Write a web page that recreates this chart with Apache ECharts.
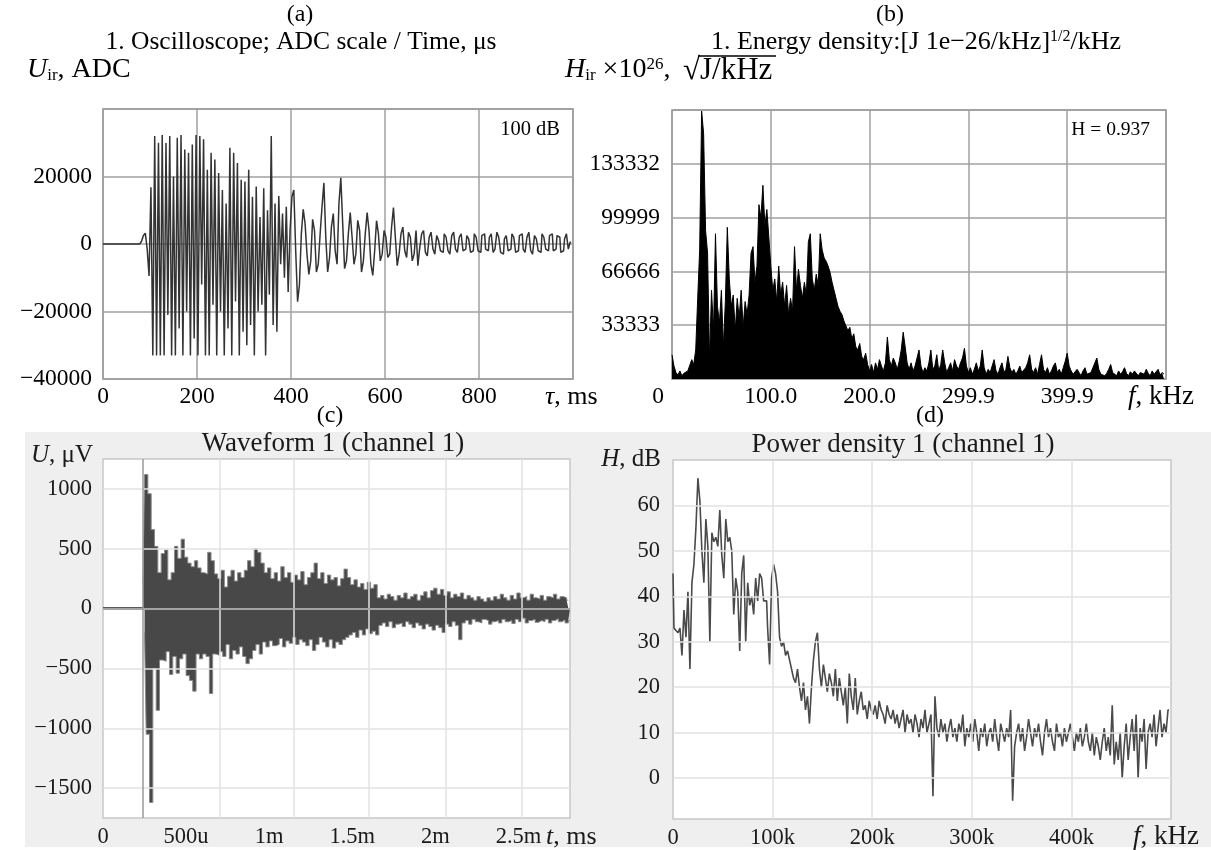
<!DOCTYPE html>
<html>
<head>
<meta charset="utf-8">
<script src="https://cdn.jsdelivr.net/npm/echarts@6/dist/echarts.min.js"></script>
<style>
html, body { margin: 0; padding: 0; background: #fff; }
#main { width: 1211px; height: 850px; }
</style>
</head>
<body>
<div id="main"></div>
<script>
var FONT = 'Liberation Serif';

// (a) oscilloscope trace, ADC counts, one sample every 4 us
var aStep = 4;
var aValues = [
  0, 0, 0, 0, 0, 0, 0, 0, 0, 0,
  0, 0, 0, 0, 0, 0, 0, 0, 0, 0,
  0, 800, 2500, 3200, -1500, -9500, 16800, -33000, 32000, -33000,
  30000, -33000, 32300, -33000, 29900, -21000, 32000, -33000, 20000, -33000,
  31500, -25000, 32300, -33000, 28000, -20000, 27000, -33000, 29500, -28000,
  32300, -33000, 32000, -12000, 31000, -33000, 22000, -33000, 27000, -18000,
  25000, -33000, 21000, -20000, 16000, -33000, 12000, -25000, 28500, -33000,
  27000, -17000, 24000, -33000, 19000, -26000, 18500, -30000, 22000, -24000,
  14000, -33000, 17000, -20000, 8000, -18000, 16500, -33000, 10000, -15000,
  32000, -24000, 12000, -26000, 14200, -6000, 9000, -10000, 11000, -14200,
  4000, 14000, 16000, -2000, -17100, -12000, 3000, 10300, 6000, -3000,
  -9000, -5000, 7300, 4000, -8300, -6000, 3000, 11000, 18100, 2000,
  -8300, -4000, 5000, 9000, -2000, -6000, 12000, 19600, 6000, -7300,
  -5000, 3000, 9300, 2000, -6000, -3000, 7000, 4000, -8300, -5000,
  3000, 9300, 4000, -6000, -9300, -2000, 6900, 3000, -5000, -3000,
  4000, 2000, -4000, -3000, 5000, 10800, 2000, -6400, -3000, 3000,
  5000, -2000, -4000, 3500, 2000, -5000, -3000, 4000, -6400, -1000,
  3000, 4000, -2500, -3500, 2000, 3500, -1500, -3000, 2500, 1000,
  -2000, -2500, 3000, 2000, -2000, -3000, 2500, 3500, -1500, -2500,
  2000, 3000, -2000, -1500, 2500, 1500, -2500, -2000, 3000, 2000,
  -2000, -2500, 2500, 3000, -1500, -2000, 2000, 3000, -2500, -1500,
  3500, 2000, -2500, -3000, 1500, 2500, -2000, -1500, 3000, 2000,
  -2500, -2000, 2500, 3000, -1500, -2500, 2000, 3500, -2000, -3000,
  2500, 1500, -2000, -2500, 3000, 2000, -1500, -2000, 2500, 3000,
  -2000, -1500, 2500, 2000, -2500, -2000, 1500, 3000, -1500, 500
];

// (b) energy density spectrum, one bin every 2 kHz
var bStep = 2;
var bValues = [
  15000, 8000, 4000, 2500, 5000, 2000, 3500, 2500, 5000, 4000,
  12000, 9000, 18000, 50000, 80000, 166000, 152000, 92000, 78000, 12000,
  55000, 30000, 90000, 45000, 35000, 55000, 20000, 48000, 94000, 62000,
  45000, 52000, 30000, 50000, 38000, 55000, 32000, 48000, 40000, 52000,
  78000, 82000, 60000, 70000, 108000, 100000, 120000, 95000, 105000, 88000,
  70000, 55000, 62000, 48000, 70000, 52000, 60000, 45000, 58000, 40000,
  50000, 42000, 82000, 55000, 68000, 58000, 50000, 60000, 52000, 85000,
  90000, 62000, 55000, 65000, 58000, 90000, 80000, 75000, 73000, 70000,
  66000, 60000, 55000, 50000, 45000, 42000, 40000, 36000, 33000, 30000,
  32000, 25000, 28000, 20000, 18000, 22000, 14000, 12000, 16000, 9000,
  5000, 9000, 4000, 10000, 6000, 12000, 8000, 5000, 10000, 26000,
  12000, 8000, 13000, 10000, 6000, 11000, 18000, 29000, 20000, 10000,
  6000, 10000, 5000, 8000, 13000, 18000, 8000, 4000, 7000, 5000,
  10000, 18000, 6000, 8000, 15000, 5000, 9000, 18000, 10000, 4000,
  7000, 10000, 5000, 12000, 8000, 6000, 10000, 13000, 19000, 8000,
  4000, 7000, 3000, 6000, 10000, 5000, 8000, 18000, 7000, 3000,
  6000, 4000, 8000, 12000, 5000, 3000, 7000, 10000, 4000, 6000,
  14000, 7000, 4000, 6000, 3000, 5000, 8000, 4000, 3000, 7000,
  10000, 15000, 6000, 4000, 7000, 3000, 9000, 15000, 6000, 4000,
  7000, 3000, 5000, 8000, 10000, 4000, 6000, 3000, 7000, 11000,
  16000, 8000, 5000, 3000, 2500, 6000, 4000, 2000, 5000, 7000,
  3000, 2000, 4000, 7000, 10000, 13000, 6000, 3000, 4000, 2000,
  3500, 6000, 9000, 4000, 3000, 2000, 5000, 3000, 4500, 7000,
  3500, 2000, 4500, 3000, 5000, 3500, 2000, 4000, 5000, 3000,
  6000, 3500, 2000, 5000, 3000, 4000, 6000, 2500, 4000, 3000
];
var bTickLabels = ['0', '100.0', '200.0', '299.9', '399.9'];

// (c) waveform envelope, uV, every 0.02 ms from the trigger
var cStart = 0.24;
var cStep = 0.02;
var cUpper = [
  200, 1120, 960, 660, 520, 300, 460, 490, 240, 300,
  520, 420, 580, 430, 380, 350, 400, 340, 300, 290,
  470, 400, 290, 250, 320, 180, 270, 320, 230, 300,
  260, 320, 400, 350, 500, 470, 380, 300, 340, 250,
  300, 230, 350, 260, 300, 220, 280, 240, 310, 200,
  260, 300, 380, 250, 300, 210, 280, 240, 260, 190,
  250, 330, 260, 200, 240, 180, 210, 160, 220, 170,
  200, 90, 110, 80, 120, 100, 70, 110, 90, 130,
  80, 100, 120, 70, 110, 140, 90, 150, 170, 120,
  160, 110, 140, 90, 120, 100, 130, 80, 110, 90,
  70, 100, 80, 60, 90, 70, 100, 80, 120, 90,
  70, 110, 80, 130, 90, 100, 70, 120, 90, 80,
  110, 70, 100, 90, 120, 80, 100, 90, 70
];
var cLower = [
  -200, -1050, -1620, -500, -850, -430, -440, -360, -550, -400,
  -540, -420, -380, -560, -600, -690, -380, -420, -380, -400,
  -710, -380, -390, -360, -400, -300, -420, -350, -380, -320,
  -400, -460, -420, -350, -300, -380, -280, -320, -270, -310,
  -300, -250, -320, -270, -290, -240, -300, -260, -280, -310,
  -260, -350, -300, -240, -280, -320, -260, -330, -280, -300,
  -260, -240, -220, -200, -240, -180, -220, -170, -210, -190,
  -220, -140, -120, -150, -110, -160, -130, -120, -150, -110,
  -130, -160, -120, -140, -170, -130, -150, -180, -140, -160,
  -200, -130, -150, -110, -140, -260, -120, -100, -130, -90,
  -110, -120, -90, -100, -130, -110, -100, -120, -90, -110,
  -100, -125, -90, -110, -80, -120, -100, -90, -115, -100,
  -110, -90, -120, -100, -85, -110, -95, -120, -100
];
var cTickT = [0, 0.5, 1, 1.5, 2, 2.5];
var cTickLabels = ['0', '500u', '1m', '1.5m', '2m', '2.5m'];
var cGridT = [0.696, 1.152, 1.605, 2.062, 2.519];
var cTickU = [-1500, -1000, -500, 0, 500, 1000];
var cTrigger = 0.241;

// (d) power density, dB, one bin every 2 kHz
var dStep = 2;
var dValues = [
  45, 33, 32.5, 32, 33, 27, 37, 31, 41, 24,
  43, 47, 55, 66, 61, 50, 43, 57, 51, 30,
  54, 52, 53, 51, 59, 49, 44, 57, 52, 53,
  50, 36, 44, 41, 28, 45, 49, 30, 43, 38,
  40, 36, 44, 39, 45, 44, 39, 39, 33, 25,
  44, 47, 45, 41, 31, 29, 30, 27, 28, 26,
  24, 22, 21, 24, 20, 17, 21, 15, 18, 12,
  20, 26, 30, 32, 24, 20, 25, 22, 19, 23,
  21, 18, 24, 17, 22, 19, 16, 20, 12, 23,
  18, 15, 22, 14, 17, 19, 15, 16, 13, 17,
  15, 14, 16, 13, 17, 15, 14, 12, 16, 14,
  13, 15, 12, 14, 11, 13, 15, 10, 14, 12,
  13, 10, 14, 12, 9, 13, 11, 15, 10, 12,
  14, -4, 18, 11, 9, 13, 10, 12, 8, 11,
  13, 9, 11, 8, 12, 10, 14, 7, 11, 9,
  12, 8, 13, 10, 6, 11, 9, 12, 7, 10,
  11, 8, 13, 9, 6, 12, 10, 8, 11, 9,
  15, -5, 7, 10, 12, 8, 11, 6, 9, 13,
  10, 7, 11, 9, 12, 8, 5, 10, 13, 9,
  11, 8, 6, 12, 9, 10, 7, 11, 8, 10,
  12, 9, 6, 10, 8, 11, 7, 9, 12, 8,
  6, 10, 5, 9, 7, 4, 8, 11, 6, 9,
  5, 16, 3, 8, 4, 10, 0, 7, 12, 4,
  9, 13, 6, 14, 0, 11, 8, 13, 2, 10,
  12, 9, 14, 7, 11, 15, 9, 12, 10, 15
];
var dTickF = [0, 100, 200, 300, 400];
var dTickH = [0, 10, 20, 30, 40, 50, 60];

var chart = echarts.init(document.getElementById('main'));

function minus(v) {
    return String(v).replace('-', '\u2212');
}

var aData = aValues.map(function (v, i) { return [i * aStep, v]; });
var bData = bValues.map(function (v, i) { return [i * bStep, v]; });
var dData = dValues.map(function (v, i) { return [i * dStep, v]; });
var cUpData = cUpper.map(function (v, i) { return [cStart + i * cStep, v]; });
var cLowData = cLower.map(function (v, i) { return [cStart + i * cStep + cStep / 2, v]; });

var topLabel = { fontFamily: FONT, fontSize: 23.5, color: '#000' };
var botLabel = { fontFamily: FONT, fontSize: 22.5, color: '#1a1a1a' };

function gridLines(xi, xs, ys) {
    var data = xs.map(function (x) { return { xAxis: x }; })
        .concat(ys.map(function (y) { return { yAxis: y }; }));
    return {
        type: 'line', xAxisIndex: xi, yAxisIndex: xi, data: [], z: 1,
        markLine: {
            silent: true, symbol: ['none', 'none'], label: { show: false },
            lineStyle: { type: 'solid', color: '#e2e2e2', width: 1.5 },
            data: data
        }
    };
}

// rich text styles: n normal, i italic, b subscript, t superscript
function richSet(size, color) {
    return {
        n: { fontFamily: FONT, fontSize: size, fill: color },
        i: { fontFamily: FONT, fontSize: size, fontStyle: 'italic', fill: color },
        b: { fontFamily: FONT, fontSize: Math.round(size * 0.62), fill: color, verticalAlign: 'bottom', lineHeight: 10 },
        t: { fontFamily: FONT, fontSize: Math.round(size * 0.62), fill: color, verticalAlign: 'top', lineHeight: 14 }
    };
}

function rtxt(x, y, text, size, align, color) {
    color = color || '#000';
    return {
        type: 'text', x: x, y: y, z: 100,
        style: {
            text: text, align: align || 'left', verticalAlign: 'middle',
            rich: richSet(size, color)
        }
    };
}

chart.setOption({
    animation: false,
    grid: [
        { left: 103, top: 109, width: 470, height: 270, show: true, borderColor: '#8c8c8c', borderWidth: 1.5 },
        { left: 672, top: 110, width: 494, height: 269, show: true, borderColor: '#8c8c8c', borderWidth: 1.5 },
        { left: 103, top: 459, width: 467, height: 359, show: true, backgroundColor: '#fff', borderColor: '#c8c8c8', borderWidth: 1.5 },
        { left: 673, top: 460, width: 498, height: 359, show: true, backgroundColor: '#fff', borderColor: '#c8c8c8', borderWidth: 1.5 }
    ],
    xAxis: [
        {
            gridIndex: 0, type: 'value', min: 0, max: 1000, interval: 200,
            axisLine: { show: false }, axisTick: { show: false },
            splitLine: { lineStyle: { color: '#a0a0a0', width: 1.5 } },
            axisLabel: Object.assign({ margin: 6, formatter: function (v) { return v === 1000 ? '' : v; } }, topLabel)
        },
        {
            gridIndex: 1, type: 'value', min: 0, max: 500, interval: 100,
            axisLine: { show: false }, axisTick: { show: false },
            splitLine: { lineStyle: { color: '#a0a0a0', width: 1.5 } },
            axisLabel: Object.assign({
                margin: 6,
                formatter: function (v) {
                    var s = bTickLabels[v / 100] || '';
                    return v === 0 ? '{z|' + s + '}' : s;
                },
                rich: { z: { fontFamily: FONT, fontSize: 23.5, color: '#000', padding: [0, 28, 0, 0] } }
            }, topLabel)
        },
        {
            gridIndex: 2, type: 'value', min: 0, max: 2.81,
            axisLine: { show: false }, axisTick: { show: false }, splitLine: { show: false },
            axisLabel: Object.assign({ margin: 8, customValues: cTickT, formatter: function (v) {
                var k = cTickT.indexOf(v);
                return k < 0 ? '' : cTickLabels[k];
            } }, botLabel)
        },
        {
            gridIndex: 3, type: 'value', min: 0, max: 500,
            axisLine: { show: false }, axisTick: { show: false }, splitLine: { show: false },
            axisLabel: Object.assign({ margin: 8, customValues: dTickF, formatter: function (v) {
                return v === 0 ? '0' : v + 'k';
            } }, botLabel)
        }
    ],
    yAxis: [
        {
            gridIndex: 0, type: 'value', min: -40000, max: 40000, interval: 20000,
            axisLine: { show: false }, axisTick: { show: false },
            splitLine: { lineStyle: { color: '#a0a0a0', width: 1.5 } },
            axisLabel: Object.assign({ margin: 11, formatter: function (v) { return v === 40000 ? '' : minus(v); } }, topLabel)
        },
        {
            gridIndex: 1, type: 'value', min: 0, max: 166665, interval: 33333,
            axisLine: { show: false }, axisTick: { show: false },
            splitLine: { lineStyle: { color: '#a0a0a0', width: 1.5 } },
            axisLabel: Object.assign({ margin: 12, formatter: function (v) { return (v === 0 || v === 166665) ? '' : v; } }, topLabel)
        },
        {
            gridIndex: 2, type: 'value', min: -1750, max: 1250,
            axisLine: { show: false }, axisTick: { show: false }, splitLine: { show: false },
            axisLabel: Object.assign({ margin: 11, customValues: cTickU, formatter: minus }, botLabel)
        },
        {
            gridIndex: 3, type: 'value', min: -9, max: 70,
            axisLine: { show: false }, axisTick: { show: false }, splitLine: { show: false },
            axisLabel: Object.assign({ margin: 13, customValues: dTickH }, botLabel)
        }
    ],
    series: [
        {
            type: 'line', xAxisIndex: 0, yAxisIndex: 0, data: aData, step: 'middle',
            symbol: 'none', z: 3, lineStyle: { color: '#333', width: 1.5 }
        },
        {
            type: 'line', xAxisIndex: 1, yAxisIndex: 1, data: bData,
            symbol: 'none', z: 3, lineStyle: { color: '#000', width: 1 },
            areaStyle: { color: '#000', opacity: 1 }
        },
        gridLines(2, cGridT, cTickU),
        {
            type: 'line', xAxisIndex: 2, yAxisIndex: 2, data: [[0, 0], [cStart, 0]],
            symbol: 'none', z: 3, lineStyle: { color: '#5a5a5a', width: 3 }
        },
        {
            type: 'line', xAxisIndex: 2, yAxisIndex: 2, data: cUpData, step: 'middle',
            symbol: 'none', z: 3, lineStyle: { color: '#8a8a8a', width: 1 },
            areaStyle: { color: '#484848', opacity: 1, origin: 0 }
        },
        {
            type: 'line', xAxisIndex: 2, yAxisIndex: 2, data: cLowData, step: 'middle',
            symbol: 'none', z: 3, lineStyle: { color: '#8a8a8a', width: 1 },
            areaStyle: { color: '#484848', opacity: 1, origin: 0 },
            markLine: {
                silent: true, symbol: ['none', 'none'], label: { show: false },
                lineStyle: { type: 'solid', color: '#9a9a9a', width: 1.5 },
                data: [{ xAxis: cTrigger }, { yAxis: 0 }]
            }
        },
        gridLines(3, dTickF.slice(1), dTickH),
        {
            type: 'line', xAxisIndex: 3, yAxisIndex: 3, data: dData, step: 'middle',
            symbol: 'none', z: 3, lineStyle: { color: '#4a4a4a', width: 1.6 }
        }
    ],
    graphic: [
        { type: 'rect', z: -100, shape: { x: 25, y: 432, width: 1186, height: 415 }, style: { fill: '#efefef' } },
        rtxt(300, 15, '{n|(a)}', 24, 'center'),
        rtxt(301, 42, '{n|1. Oscilloscope; ADC scale / Time, \u03bcs}', 25.5, 'center'),
        rtxt(27, 70, '{i|U}{b|ir}{n|, ADC}', 28),
        rtxt(890, 15, '{n|(b)}', 24, 'center'),
        rtxt(916, 42, '{n|1. Energy density:[J 1e\u221226/kHz]}{t|1/2}{n|/kHz}', 26, 'center'),
        rtxt(565, 70, '{i|H}{b|ir}{n| \u00d710}{t|26}{n|,}', 28),
        rtxt(683, 71, '{n|\u221aJ/kHz}', 31),
        { type: 'line', z: 100, shape: { x1: 698, y1: 56, x2: 776, y2: 56 }, style: { stroke: '#000', lineWidth: 1.3 } },
        rtxt(560, 130, '{n|100 dB}', 20.5, 'right'),
        rtxt(1150, 130, '{n|H = 0.937}', 19.5, 'right'),
        rtxt(545, 397, '{i|\u03c4}{n|, ms}', 26),
        rtxt(1128, 397, '{i|f}{n|, kHz}', 27),
        rtxt(330, 416, '{n|(c)}', 24, 'center'),
        rtxt(930, 416, '{n|(d)}', 24, 'center'),
        rtxt(333, 444, '{n|Waveform 1 (channel 1)}', 27, 'center', '#1a1a1a'),
        rtxt(903, 445, '{n|Power density 1 (channel 1)}', 27, 'center', '#1a1a1a'),
        rtxt(93, 455, '{i|U}{n|, \u03bcV}', 25, 'right', '#1a1a1a'),
        rtxt(661, 459, '{i|H}{n|, dB}', 25, 'right', '#1a1a1a'),
        rtxt(546, 837, '{i|t}{n|, ms}', 26, 'left', '#1a1a1a'),
        rtxt(1133, 837, '{i|f}{n|, kHz}', 27, 'left', '#1a1a1a')
    ]
});

window.onresize = chart.resize;
</script>
</body>
</html>
